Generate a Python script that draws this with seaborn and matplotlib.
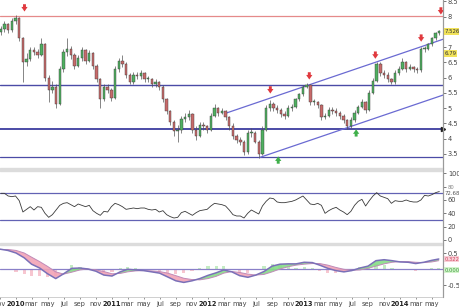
import numpy as np
import pandas as pd
import matplotlib
matplotlib.use("Agg")
import matplotlib.pyplot as plt
from matplotlib.patches import Rectangle
from matplotlib.lines import Line2D
import seaborn as sns

sns.set_theme(style="white")
plt.rcParams["font.family"] = ["DejaVu Sans"]

# ---------------- data ----------------
candle_dates = pd.date_range("2009-11-06", periods=120, freq="14D")
opens = [7.50,7.60,7.75,7.55,7.85,7.95,7.30,6.50,6.60,6.90,
         6.85,6.75,7.10,6.00,5.60,5.70,5.15,6.30,6.85,6.95,
         6.75,6.40,6.65,6.90,6.55,6.80,6.40,5.95,5.30,5.70,
         5.60,5.35,6.30,6.55,6.45,6.10,5.85,6.10,6.05,6.15,
         5.95,5.95,5.80,5.85,5.70,5.30,4.90,4.55,4.25,4.30,
         4.65,4.70,4.80,4.30,4.10,4.45,4.40,4.30,4.75,5.00,
         4.85,4.90,4.70,4.40,4.10,3.95,3.90,3.55,4.20,4.20,
         3.90,3.50,4.30,5.00,5.15,5.00,4.95,4.80,4.75,5.00,
         5.05,5.30,5.45,5.70,5.75,5.20,5.20,5.10,4.70,4.75,
         4.95,4.90,4.85,4.75,4.60,4.40,4.60,4.85,5.05,5.20,
         4.95,5.50,5.90,6.45,6.15,6.10,5.95,5.85,6.15,6.30,
         6.50,6.30,6.35,6.30,6.25,6.95,6.95,7.10,7.30,7.45]
closes = [7.60,7.75,7.55,7.85,7.95,7.30,6.50,6.60,6.90,6.85,
          6.75,7.10,6.00,5.60,5.70,5.15,6.30,6.85,6.95,6.75,
          6.40,6.65,6.90,6.55,6.80,6.40,5.95,5.30,5.70,5.60,
          5.35,6.30,6.55,6.45,6.10,5.85,6.10,6.05,6.15,5.95,
          5.95,5.80,5.85,5.70,5.30,4.90,4.55,4.25,4.30,4.65,
          4.70,4.80,4.30,4.10,4.45,4.40,4.30,4.75,5.00,4.85,
          4.90,4.70,4.40,4.10,3.95,3.90,3.55,4.20,4.20,3.90,
          3.50,4.30,5.00,5.15,5.00,4.95,4.80,4.75,5.00,5.05,
          5.30,5.45,5.70,5.75,5.20,5.20,5.10,4.70,4.75,4.95,
          4.90,4.85,4.75,4.60,4.40,4.60,4.85,5.05,5.20,4.95,
          5.50,5.90,6.45,6.15,6.10,5.95,5.85,6.15,6.30,6.50,
          6.30,6.35,6.30,6.25,6.95,6.95,7.10,7.30,7.45,7.526]
highs = [7.70,7.85,7.80,7.95,8.05,8.00,7.35,6.80,7.00,7.00,
         6.95,7.30,7.15,6.10,5.90,5.80,6.40,6.95,7.30,7.05,
         6.80,6.75,7.00,6.95,6.90,6.85,6.45,6.00,5.80,5.80,
         5.65,6.40,6.65,6.75,6.50,6.15,6.20,6.20,6.25,6.20,
         6.05,6.00,5.95,5.90,5.75,5.35,4.95,4.60,4.45,4.75,
         4.85,4.95,4.85,4.40,4.55,4.55,4.45,4.85,5.15,5.05,
         5.00,4.95,4.75,4.50,4.15,4.05,3.95,4.30,4.35,4.25,
         3.95,4.40,5.10,5.27,5.20,5.10,5.00,4.90,5.10,5.15,
         5.35,5.50,5.75,5.82,5.78,5.30,5.25,5.15,4.85,5.05,
         5.05,5.00,4.90,4.80,4.65,4.70,4.95,5.10,5.30,5.25,
         5.60,6.00,6.52,6.50,6.25,6.20,6.00,6.25,6.40,6.65,
         6.55,6.45,6.40,6.35,7.00,7.05,7.15,7.35,7.50,7.56]
lows = [7.40,7.50,7.45,7.50,7.75,7.20,5.85,6.40,6.55,6.75,
        6.65,6.70,5.90,5.20,5.50,5.00,5.10,6.20,6.70,6.60,
        6.30,6.35,6.55,6.45,6.50,6.30,5.85,5.00,5.25,5.50,
        5.25,5.30,6.20,6.35,6.00,5.80,5.80,5.95,5.95,5.85,
        5.85,5.70,5.70,5.60,5.20,4.80,4.45,4.10,3.90,4.20,
        4.55,4.60,4.20,3.95,4.05,4.30,4.20,4.25,4.70,4.75,
        4.80,4.60,4.30,4.00,3.85,3.80,3.45,3.50,4.05,3.85,
        3.38,3.45,4.25,4.90,4.90,4.85,4.70,4.65,4.70,4.90,
        5.00,5.25,5.40,5.65,5.10,5.10,5.00,4.60,4.65,4.70,
        4.80,4.75,4.65,4.50,4.33,4.35,4.55,4.80,5.00,4.85,
        4.90,5.45,5.85,6.05,6.00,5.85,5.78,5.80,6.10,6.25,
        6.20,6.25,6.20,6.15,6.20,6.85,6.90,7.05,7.25,7.40]
rsi = [70,70,66,65,66,59,42,46,50,45,
       50,49,40,34,38,45,52,55,56,53,
       50,54,52,50,52,44,40,37,43,42,
       50,55,53,50,46,47,48,47,48,48,
       46,45,46,42,44,38,35,33,34,41,
       43,40,37,41,44,45,46,51,55,54,
       53,51,45,38,36,36,33,40,45,42,
       39,51,58,63,62,57,56,56,57,58,
       60,63,66,60,54,53,55,52,40,44,
       47,49,45,42,38,43,52,58,61,51,
       59,66,71,66,64,62,55,59,58,58,
       60,58,57,57,60,67,66,68,71,72.68]

macd_dates = list(pd.date_range("2009-11-01", "2014-05-01", freq="MS")) + [pd.Timestamp("2014-05-28")]
macd = [0.63,0.59,0.51,0.36,0.16,0.04,-0.14,-0.29,-0.14,0.03,
        0.04,0.01,-0.06,-0.18,-0.21,-0.08,0.00,-0.02,-0.04,-0.08,
        -0.12,-0.24,-0.36,-0.41,-0.36,-0.29,-0.19,-0.11,-0.02,-0.08,
        -0.20,-0.25,-0.18,-0.07,0.10,0.16,0.17,0.17,0.22,0.21,
        0.13,0.03,-0.04,-0.08,-0.04,0.04,0.10,0.27,0.30,0.27,
        0.23,0.22,0.18,0.22,0.28,0.322]
signal = [0.62,0.62,0.59,0.51,0.38,0.24,0.09,-0.08,-0.15,-0.09,
          -0.02,0.01,-0.02,-0.07,-0.14,-0.13,-0.08,-0.05,-0.04,-0.05,
          -0.07,-0.12,-0.20,-0.28,-0.32,-0.33,-0.29,-0.22,-0.12,-0.07,
          -0.10,-0.15,-0.18,-0.16,-0.08,0.01,0.08,0.13,0.16,0.18,
          0.18,0.13,0.06,0.00,-0.03,-0.02,0.03,0.10,0.17,0.22,
          0.24,0.24,0.22,0.21,0.23,0.27]
hist = [0.01,-0.03,-0.08,-0.15,-0.22,-0.20,-0.23,-0.21,0.01,0.12,
        0.06,0.00,-0.04,-0.11,-0.07,0.05,0.08,0.03,0.00,-0.03,
        -0.05,-0.12,-0.16,-0.13,-0.04,0.04,0.10,0.11,0.10,-0.01,
        -0.10,-0.10,0.00,0.09,0.18,0.15,0.09,0.04,0.06,0.03,
        -0.05,-0.10,-0.10,-0.08,-0.01,0.06,0.07,0.17,0.13,0.05,
        -0.01,-0.02,-0.04,0.01,0.05,0.05]

hlines_blue = [5.76, 4.33, 3.39]
hline_red = 8.02
chan_upper_dates = [pd.Timestamp("2012-03-08"), pd.Timestamp("2014-06-13")]
chan_upper_vals = [4.83, 7.26]
chan_lower_dates = [pd.Timestamp("2012-07-15"), pd.Timestamp("2014-06-13")]
chan_lower_vals = [3.38, 5.43]
red_arrow_dates = pd.to_datetime(["2010-02-04", "2012-08-26", "2013-01-21",
                                  "2013-09-29", "2014-03-22", "2014-06-05"])
red_arrow_vals = [8.29, 5.60, 6.06, 6.74, 7.30, 8.19]
green_arrow_dates = pd.to_datetime(["2012-09-25", "2013-07-18"])
green_arrow_vals = [3.30, 4.19]
price_ticks = [3.5, 4, 4.5, 5, 5.5, 6, 6.5, 7, 8, 8.5]
price_tick_labels = ["3.5", "4", "4.5", "5", "5.5", "6", "6.5", "7", "8", "8.5"]
last_price = 7.526
ref_price = 6.79
rsi_last = 72.68
macd_last = 0.322
hist_last = 0.000

# ---------------- figure ----------------
W, H = 460, 308
fig = plt.figure(figsize=(W / 100, H / 100), dpi=100)
right = 443 / W

def pax(top, bottom):
    return fig.add_axes([0, 1 - bottom / H, right, (bottom - top) / H])

ax = pax(0, 168)
ax_r = pax(171, 243)
ax_m = pax(245, 297)

xmin, xmax = pd.Timestamp("2009-11-03"), pd.Timestamp("2014-06-13")
for a in (ax, ax_r, ax_m):
    a.set_xlim(xmin, xmax)
    a.set_facecolor("white")
    for s in ("left", "top", "bottom"):
        a.spines[s].set_visible(False)
    a.spines["right"].set_color("#9a9a9a")
    a.spines["right"].set_linewidth(0.8)
    a.yaxis.tick_right()
    a.tick_params(axis="y", labelsize=4.8, length=2, width=0.5, pad=1.5,
                  colors="#444444", right=True)
    a.tick_params(axis="x", bottom=False, labelbottom=False)

# ---- main price panel ----
ax.set_ylim(3.039, 8.548)
ax.axhline(hline_red, color="#e58a8a", lw=0.9, zorder=1)
for v, lw in zip(hlines_blue, [1.0, 1.4, 0.9]):
    ax.axhline(v, color="#4b4ba6", lw=lw, zorder=1)
sns.lineplot(x=chan_upper_dates, y=chan_upper_vals, ax=ax, color="#6a6ad2", lw=0.9)
sns.lineplot(x=chan_lower_dates, y=chan_lower_vals, ax=ax, color="#6a6ad2", lw=0.9)

df = pd.DataFrame({"d": candle_dates, "o": opens, "h": highs, "l": lows, "c": closes})
up = df["c"] >= df["o"]
ax.vlines(df["d"], df["l"], df["h"], color="#555555", lw=0.5, zorder=2)
bottoms = np.minimum(df["o"], df["c"])
heights = np.maximum(np.abs(df["c"] - df["o"]), 0.03)
ax.bar(df["d"], heights, bottom=bottoms, width=9,
       color=np.where(up, "#4fb060", "#c86a6a"),
       edgecolor="#3a3a3a", linewidth=0.3, zorder=3)

astyle = "simple,head_width=0.75,head_length=0.55,tail_width=0.35"
for d, v in zip(red_arrow_dates, red_arrow_vals):
    ax.annotate("", xy=(d, v - 0.12), xytext=(d, v + 0.12),
                arrowprops=dict(arrowstyle=astyle, color="#e0393e", lw=0, mutation_scale=6,
                                shrinkA=0, shrinkB=0), annotation_clip=False)
for d, v in zip(green_arrow_dates, green_arrow_vals):
    ax.annotate("", xy=(d, v + 0.12), xytext=(d, v - 0.12),
                arrowprops=dict(arrowstyle=astyle, color="#3fb04a", lw=0, mutation_scale=6,
                                shrinkA=0, shrinkB=0), annotation_clip=False)

ax.set_yticks(price_ticks)
ax.set_yticklabels(price_tick_labels)
ax.plot([1.0], [hlines_blue[1]], marker=">", ms=3, color="#222222",
        transform=ax.get_yaxis_transform(), clip_on=False)
for val, txt in [(last_price, "7.526"), (ref_price, "6.79")]:
    ax.text(1.003, val, txt, transform=ax.get_yaxis_transform(), fontsize=3.9,
            ha="left", va="center", color="#333333", clip_on=False, zorder=5,
            bbox=dict(boxstyle="square,pad=0.2", fc="#f1e25a", ec="none"))

# ---- RSI panel ----
ax_r.set_ylim(-4.5, 103.5)
ax_r.axhline(70, color="#6262b4", lw=0.9)
ax_r.axhline(30, color="#6262b4", lw=0.9)
sns.lineplot(x=candle_dates, y=rsi, ax=ax_r, color="#3a3a3a", lw=0.6)
ax_r.set_yticks([0, 20, 40, 60, 80, 100])
ax_r.set_yticklabels(["0", "20", "40", "60", "80", "100"])
ax_r.get_yticklabels()[4].set_fontsize(3.8)
ax_r.get_yticklabels()[4].set_color("#888888")
ax_r.text(1.003, rsi_last - 2.5, "72.68", transform=ax_r.get_yaxis_transform(), fontsize=3.9,
          ha="left", va="center", color="#555555", clip_on=False, zorder=5)

# ---- MACD panel ----
ax_m.set_ylim(-0.866, 0.76)
md = pd.DataFrame({"d": macd_dates, "m": macd, "s": signal, "h": hist})
ax_m.bar(md["d"], md["h"], width=12, color=np.where(md["h"] >= 0, "#9ee09e", "#f3a0b2"),
         alpha=0.6, linewidth=0, zorder=1)
ax_m.axhline(0, color="#8a80c8", lw=0.9, zorder=2)
ax_m.fill_between(md["d"], md["m"], md["s"], where=md["m"] >= md["s"], interpolate=True,
                  color="#86dc86", alpha=0.9, linewidth=0, zorder=2)
ax_m.fill_between(md["d"], md["m"], md["s"], where=md["m"] < md["s"], interpolate=True,
                  color="#f2a3b6", alpha=0.9, linewidth=0, zorder=2)
sns.lineplot(data=md, x="d", y="s", ax=ax_m, color="#c08ab8", lw=0.7, zorder=3)
sns.lineplot(data=md, x="d", y="m", ax=ax_m, color="#7a70b8", lw=1.1, zorder=4)
ax_m.set_yticks([0.5, -0.5])
ax_m.set_yticklabels(["0.5", "-0.5"])
ax_m.text(1.003, macd_last, "0.322", transform=ax_m.get_yaxis_transform(), fontsize=3.8,
          ha="left", va="center", color="#d04860", clip_on=False, zorder=5,
          bbox=dict(boxstyle="square,pad=0.12", fc="#f9d0d8", ec="none"))
ax_m.text(1.003, hist_last - 0.03, "0.000", transform=ax_m.get_yaxis_transform(), fontsize=3.8,
          ha="left", va="center", color="#3a9a3a", clip_on=False, zorder=5,
          bbox=dict(boxstyle="square,pad=0.12", fc="#d4f4cc", ec="none"))
ax_m.spines["bottom"].set_visible(True)
ax_m.spines["bottom"].set_color("#c8c8c8")
ax_m.spines["bottom"].set_linewidth(0.6)
for a in (ax, ax_r, ax_m):
    a.set_xlabel("")
    a.set_ylabel("")

# x tick labels
ticks = pd.date_range("2009-11-01", "2014-05-01", freq="2MS")
mon = {1: "", 3: "mar", 5: "may", 7: "jul", 9: "sep", 11: "nov"}
ax_m.set_xticks(ticks)
labels = [str(t.year) if t.month == 1 else mon[t.month] for t in ticks]
ax_m.set_xticklabels(labels)
ax_m.tick_params(axis="x", bottom=True, labelbottom=True, labelsize=4.8, length=1.5,
                 width=0.4, pad=1.5, colors="#444444")
for lab, t in zip(ax_m.get_xticklabels(), ticks):
    if t.month == 1:
        lab.set_fontweight("bold")
        lab.set_color("#222222")

# separators and right border
fig.patches.append(Rectangle((0, 1 - 171 / H), right, 3 / H, transform=fig.transFigure,
                             color="#dcdcdc", zorder=0))
fig.patches.append(Rectangle((0, 1 - 245 / H), right, 2 / H, transform=fig.transFigure,
                             color="#dcdcdc", zorder=0))
fig.lines.append(Line2D([right, right], [1 - 297 / H, 1], transform=fig.transFigure,
                        color="#9a9a9a", lw=0.8))

fig.savefig("out.png", dpi=100)
